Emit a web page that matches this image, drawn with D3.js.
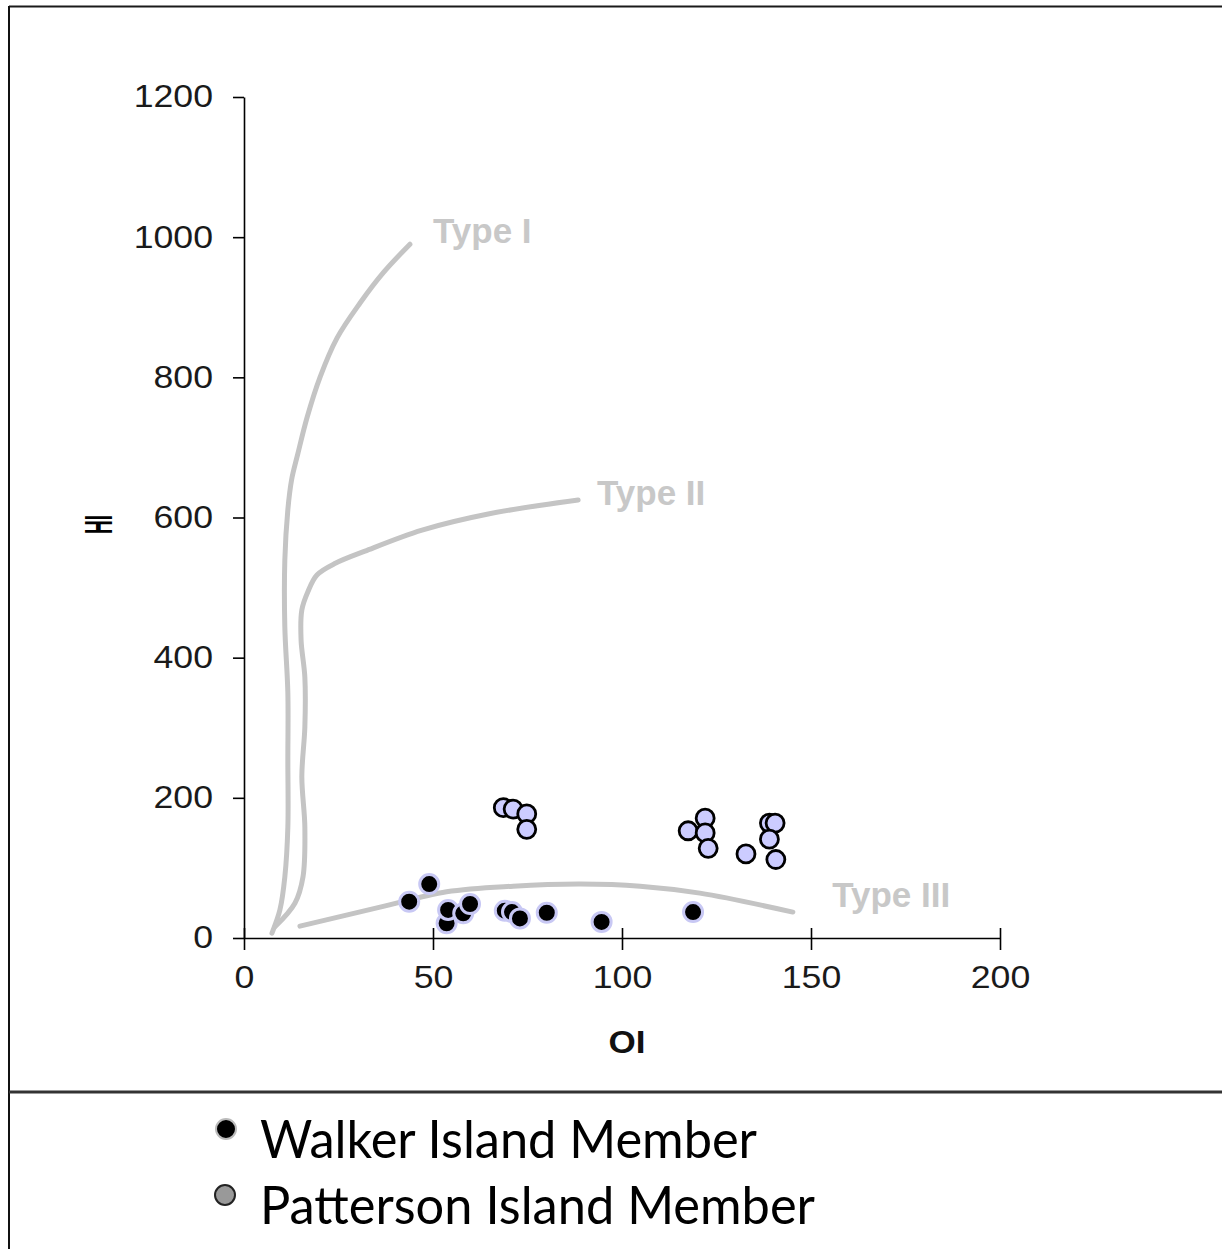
<!DOCTYPE html>
<html><head><meta charset="utf-8">
<script src="https://cdn.jsdelivr.net/npm/d3@7/dist/d3.min.js"></script>
<style>body{margin:0;background:#fff}svg{display:block}</style>
</head><body>
<svg id="c" width="1222" height="1249"></svg>
<script>
// Data (OI, HI)
const walkerOI = [43.7, 49.0, 53.6, 54.0, 58.0, 59.8, 69.0, 70.9, 73.0, 80.1, 94.6, 118.8];
const walkerHI = [51.8, 77.0, 21.0, 40.0, 35.2, 48.5, 39.0, 37.0, 28.0, 36.0, 23.0, 37.0];
const pattersonOI = [68.6, 71.2, 74.8, 74.8, 117.5, 122.0, 122.0, 122.8, 132.8, 139.0, 140.5, 139.0, 140.7];
const pattersonHI = [186, 184, 177, 155, 153, 171, 150, 128, 120, 164, 164, 141, 112];
const typeIOI = [7.4, 9.5, 10.8, 11.6, 11.6, 11.6, 10.8, 10.8, 11.6, 12.6, 14.2, 16.7, 20.1, 24.6, 30.7, 36.8, 43.9];
const typeIHI = [7, 40, 87, 158, 254, 350, 444, 539, 611, 654, 690, 743, 800, 856, 906, 949, 990];
const typeIIOI = [8.2, 13.5, 15.6, 16.1, 15.3, 16.1, 16.1, 15.1, 15.3, 16.9, 19.3, 24.3, 32.0, 47.1, 64.6, 88.4];
const typeIIHI = [16, 50, 87, 158, 230, 301, 372, 425, 468, 494, 518, 535, 552, 582, 605, 625];
const typeIIIOI = [14.8, 36.0, 53.6, 71.2, 88.9, 104.8, 120.6, 145.2];
const typeIIIHI = [17, 44, 66, 74, 77, 74, 64, 37];
const curveLabels = ["Type I", "Type II", "Type III"];
const curveLabelOI = [50.0, 93.4, 155.6];
const curveLabelHI = [992, 618, 44];
const xTicks = [0, 50, 100, 150, 200];
const yTicks = [0, 200, 400, 600, 800, 1000, 1200];
const legendLabels = ["Walker Island Member", "Patterson Island Member"];

const svg = d3.select("#c");
const x = d3.scaleLinear().domain([0, 200]).range([244, 1000]);
const y = d3.scaleLinear().domain([0, 1200]).range([938, 97]);

// frame
svg.append("line").attr("x1", 9).attr("x2", 1222).attr("y1", 6.5).attr("y2", 6.5).attr("stroke", "#1a1a1a").attr("stroke-width", 2);
svg.append("line").attr("x1", 9).attr("x2", 9).attr("y1", 6).attr("y2", 1249).attr("stroke", "#111").attr("stroke-width", 2);
svg.append("line").attr("x1", 9).attr("x2", 1222).attr("y1", 1092).attr("y2", 1092).attr("stroke", "#333").attr("stroke-width", 3);

// axes
const font = "'Liberation Sans', Arial, sans-serif";
const fmt = d3.format("d");
const xAxis = svg.append("g").attr("transform", `translate(0,${y(0)})`)
  .call(d3.axisBottom(x).tickValues(xTicks).tickFormat(fmt).tickSizeInner(12).tickSizeOuter(0).tickPadding(16));
xAxis.selectAll(".tick line").attr("y1", -10).attr("stroke", "#000").attr("stroke-width", 1.6);
xAxis.select(".domain").attr("stroke", "#000").attr("stroke-width", 1.6);
xAxis.selectAll("text").attr("font-family", font).attr("font-size", 31).attr("fill", "#1a1a1a");

const yAxis = svg.append("g").attr("transform", `translate(${x(0)},0)`)
  .call(d3.axisLeft(y).tickValues(yTicks).tickFormat(fmt).tickSizeInner(11).tickSizeOuter(0).tickPadding(20));
yAxis.selectAll(".tick line").attr("stroke", "#000").attr("stroke-width", 1.6);
yAxis.select(".domain").attr("stroke", "#000").attr("stroke-width", 1.6);
yAxis.selectAll("text").attr("font-family", font).attr("font-size", 31).attr("fill", "#1a1a1a");

// widen tick labels slightly like reference
[xAxis, yAxis].forEach(ax => ax.selectAll("text").each(function () {
  const w = this.getComputedTextLength();
  d3.select(this).attr("textLength", w * 1.15).attr("lengthAdjust", "spacingAndGlyphs");
}));

// axis titles
svg.append("text").attr("x", x(100) + 5).attr("y", 1053).attr("text-anchor", "middle")
  .attr("font-family", font).attr("font-weight", "bold").attr("font-size", 31).attr("fill", "#111")
  .attr("textLength", 37).attr("lengthAdjust", "spacingAndGlyphs").text("OI");
svg.append("text").attr("transform", `translate(112,${y(590)}) rotate(-90) scale(0.8,1.65)`)
  .attr("text-anchor", "middle").attr("font-family", font).attr("font-weight", "bold")
  .attr("font-size", 24).attr("fill", "#000").text("HI");

// curves
const line = d3.line().x(d => x(d[0])).y(d => y(d[1])).curve(d3.curveCatmullRom.alpha(0.5));
[[typeIOI, typeIHI], [typeIIOI, typeIIHI], [typeIIIOI, typeIIIHI]].forEach(([ox, hy]) => {
  svg.append("path").datum(ox.map((v, i) => [v, hy[i]])).attr("d", line)
    .attr("fill", "none").attr("stroke", "#c4c4c4").attr("stroke-width", 5).attr("stroke-linecap", "round");
});
svg.selectAll(".clabel").data(curveLabels).enter().append("text")
  .attr("x", (d, i) => x(curveLabelOI[i])).attr("y", (d, i) => y(curveLabelHI[i]))
  .attr("font-family", font).attr("font-weight", "bold").attr("font-size", 35).attr("fill", "#c8c8c8")
  .text(d => d);

// points
const pat = pattersonOI.map((v, i) => [v, pattersonHI[i]]);
svg.selectAll(".pat").data(pat).enter().append("circle")
  .attr("cx", d => x(d[0])).attr("cy", d => y(d[1])).attr("r", 9)
  .attr("fill", "#ccccff").attr("stroke", "#000").attr("stroke-width", 2.8);
const wal = walkerOI.map((v, i) => [v, walkerHI[i]]);
svg.selectAll(".wal").data(wal).enter().append("circle")
  .attr("cx", d => x(d[0])).attr("cy", d => y(d[1])).attr("r", 9.5)
  .attr("fill", "#000").attr("stroke", "#c8c8f4").attr("stroke-width", 3);

// legend
const lf = "Lato, 'Open Sans', sans-serif";
const lg = svg.append("g");
lg.append("circle").attr("cx", 226).attr("cy", 1129).attr("r", 10).attr("fill", "#000").attr("stroke", "#bbb").attr("stroke-width", 2);
lg.append("circle").attr("cx", 225).attr("cy", 1195).attr("r", 10).attr("fill", "#999").attr("stroke", "#222").attr("stroke-width", 2);
const lw = [497, 555];
const lb = [1158, 1224];
legendLabels.forEach((t, i) => {
  lg.append("text").attr("x", 260).attr("y", lb[i]).attr("font-family", lf).attr("font-size", 52)
    .attr("fill", "#000").attr("textLength", lw[i]).attr("lengthAdjust", "spacingAndGlyphs").text(t);
});
</script>
</body></html>
